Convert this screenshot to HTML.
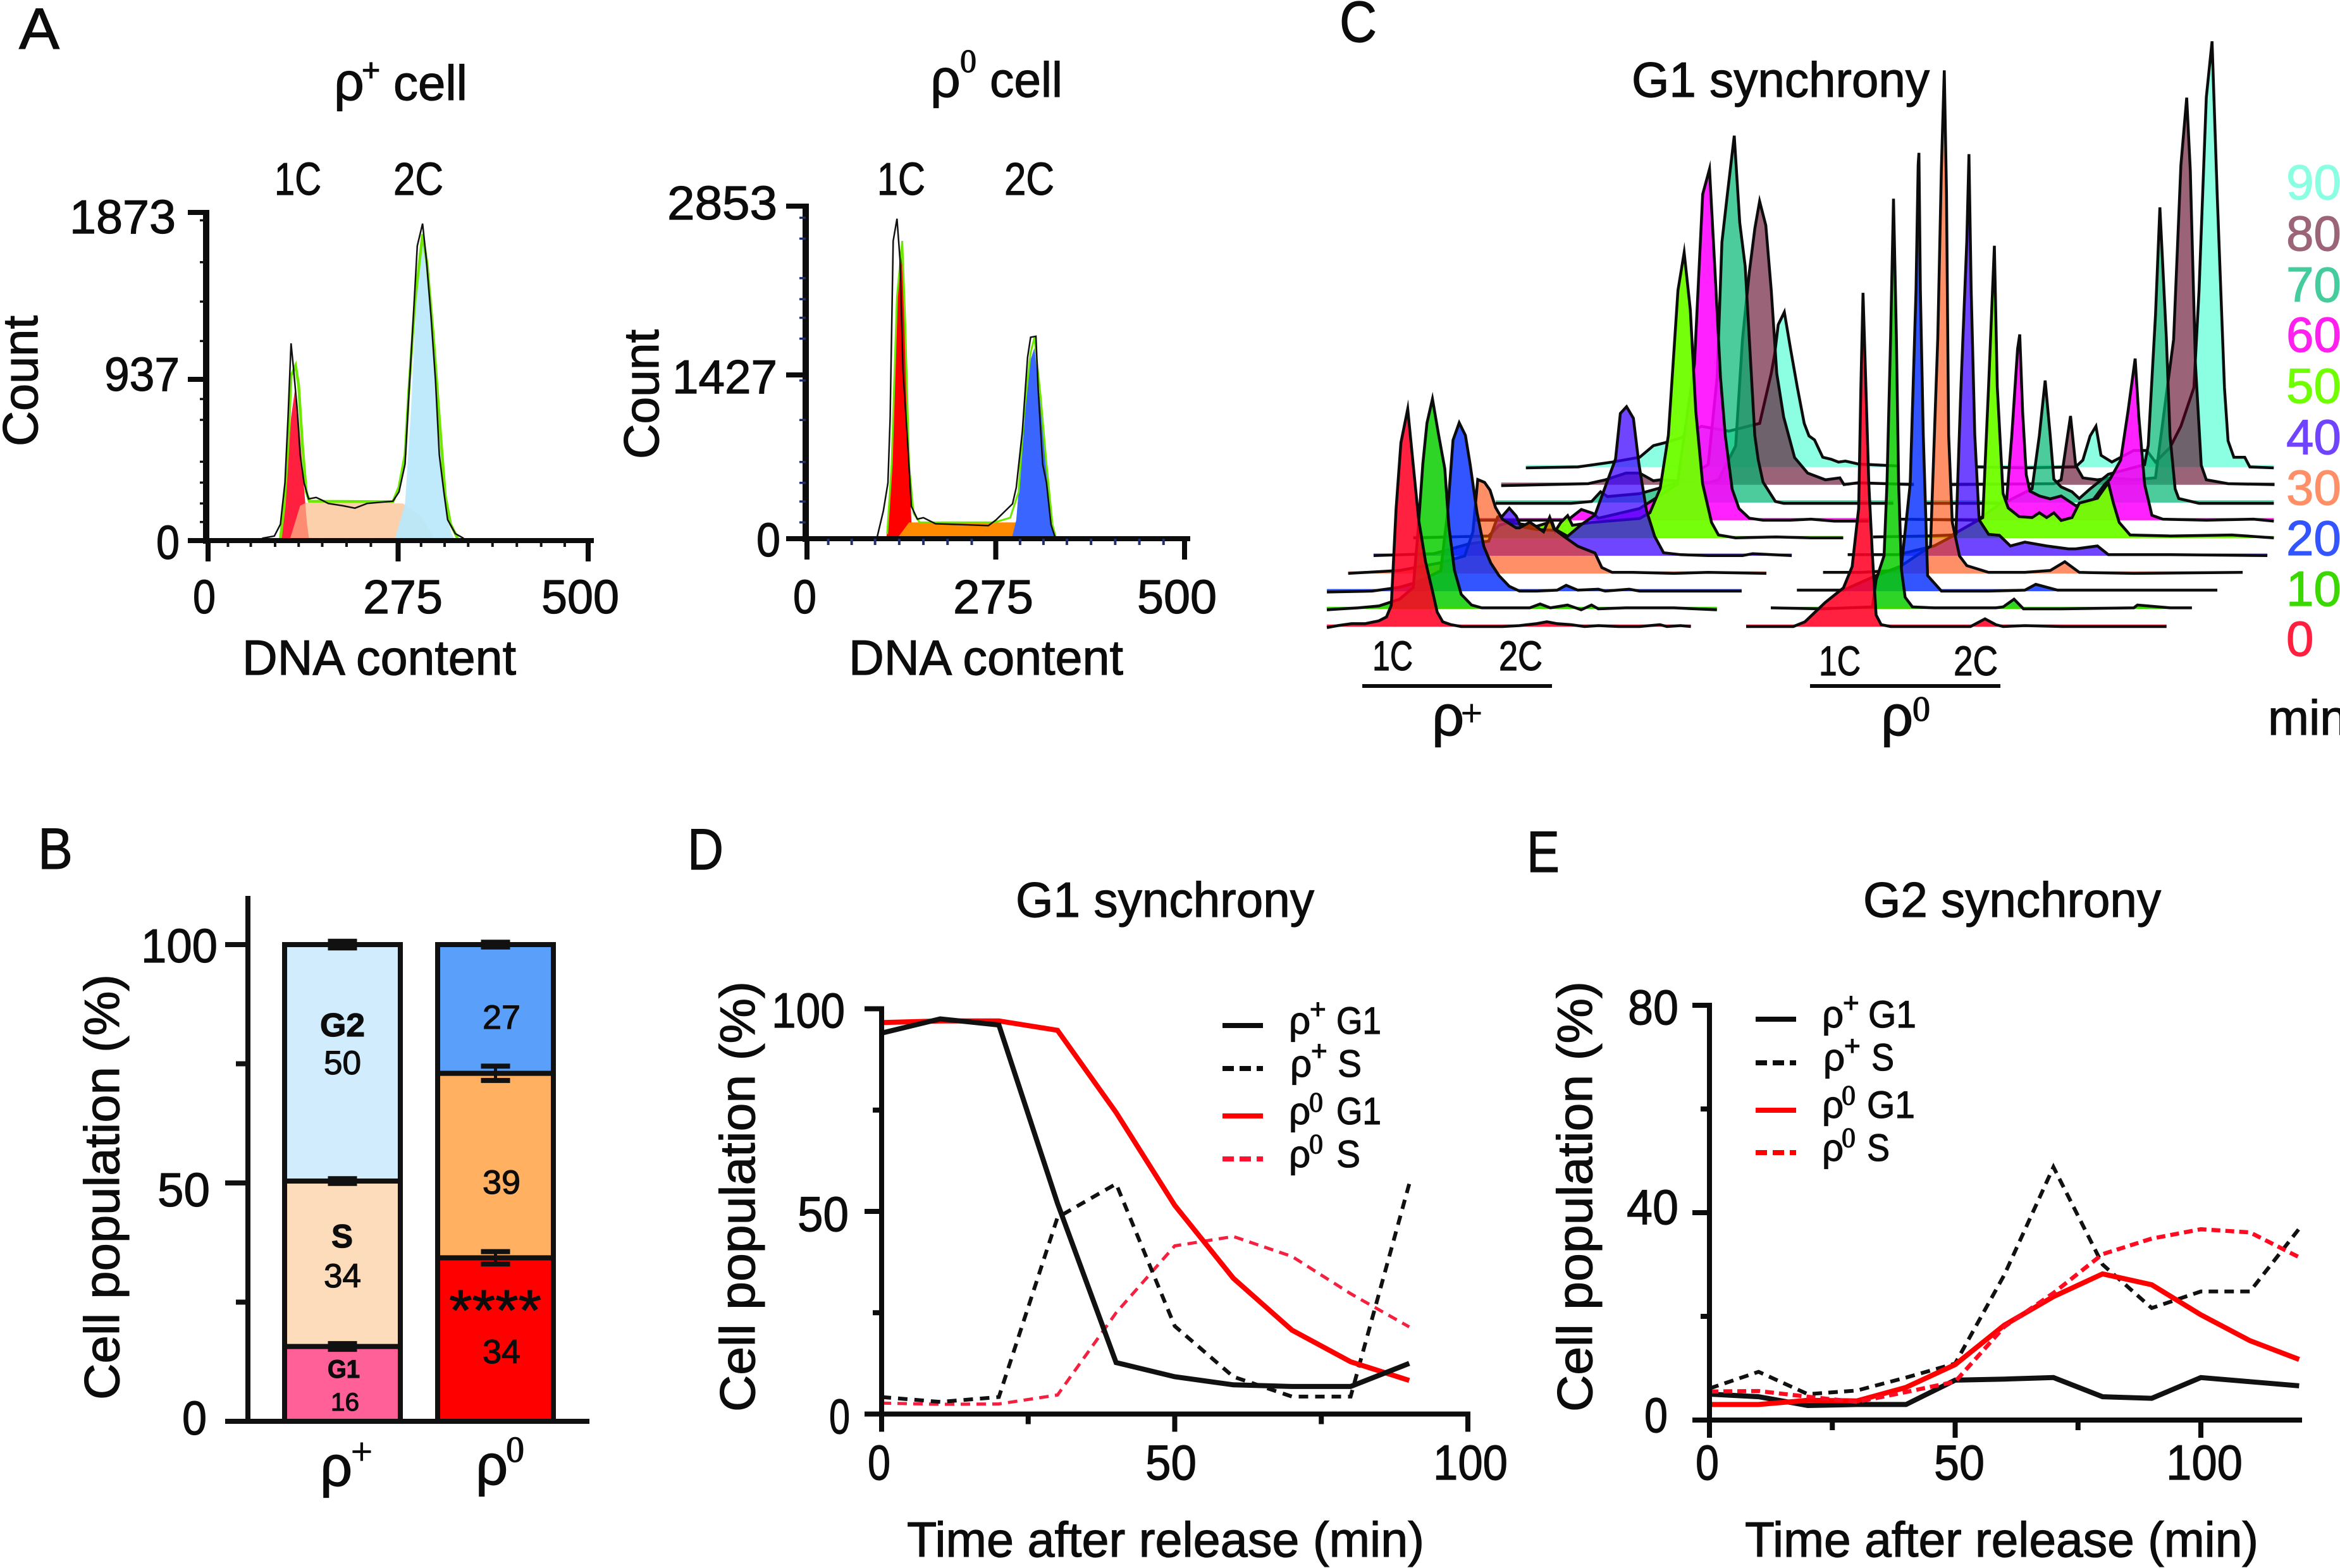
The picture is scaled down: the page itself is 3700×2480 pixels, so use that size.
<!DOCTYPE html>
<html lang="en">
<head>
<meta charset="utf-8">
<title>Cell cycle figure</title>
<style>
html,body{margin:0;padding:0;background:#fff;}
svg{display:block;}
text{font-family:"Liberation Sans",sans-serif;color:#0c0c0c;fill:currentColor;stroke:currentColor;stroke-width:1.2;}
.serif{font-family:"Liberation Serif",serif;}
.panel{font-size:92px;}
.t75{font-size:75px;}
.t78{font-size:78px;}
.t70{font-size:72px;}
.lg{font-size:60px;}
.sup{font-size:44px;}
</style>
</head>
<body>
<svg id="figure" xmlns="http://www.w3.org/2000/svg" width="3700" height="2480" viewBox="0 0 3700 2480">
<rect x="0" y="0" width="3700" height="2480" fill="#fff"/>

<!-- Panel A -->
<g>
<text class="panel" x="30" y="77" textLength="64" lengthAdjust="spacingAndGlyphs">A</text>
<text font-size="84" x="528" y="158">ρ</text>
<text font-size="50" x="572" y="128">+</text>
<text class="t78" x="622" y="158" textLength="117" lengthAdjust="spacingAndGlyphs">cell</text>
<text class="t70" x="434" y="308" textLength="74" lengthAdjust="spacingAndGlyphs">1C</text>
<text class="t70" x="622" y="308" textLength="79" lengthAdjust="spacingAndGlyphs">2C</text>
<text class="t75" x="110" y="369" textLength="168" lengthAdjust="spacingAndGlyphs">1873</text>
<text class="t75" x="165" y="618" textLength="119" lengthAdjust="spacingAndGlyphs">937</text>
<text class="t75" x="247" y="884" textLength="37" lengthAdjust="spacingAndGlyphs">0</text>
<text class="t75" x="305" y="970" textLength="36" lengthAdjust="spacingAndGlyphs">0</text>
<text class="t75" x="574" y="970" textLength="126" lengthAdjust="spacingAndGlyphs">275</text>
<text class="t75" x="856" y="970" textLength="123" lengthAdjust="spacingAndGlyphs">500</text>
<text class="t78" x="383" y="1067" textLength="433" lengthAdjust="spacingAndGlyphs">DNA content</text>
<text class="t78" transform="translate(59,706) rotate(-90)" textLength="207" lengthAdjust="spacingAndGlyphs">Count</text>

<text font-size="84" x="1471" y="153">ρ</text>
<text class="serif" font-size="52" x="1518" y="114">0</text>
<text class="t78" x="1565" y="153" textLength="115" lengthAdjust="spacingAndGlyphs">cell</text>
<text class="t70" x="1387" y="308" textLength="76" lengthAdjust="spacingAndGlyphs">1C</text>
<text class="t70" x="1588" y="308" textLength="79" lengthAdjust="spacingAndGlyphs">2C</text>
<text class="t75" x="1055" y="347" textLength="174" lengthAdjust="spacingAndGlyphs">2853</text>
<text class="t75" x="1063" y="622" textLength="166" lengthAdjust="spacingAndGlyphs">1427</text>
<text class="t75" x="1196" y="880" textLength="38" lengthAdjust="spacingAndGlyphs">0</text>
<text class="t75" x="1254" y="970" textLength="37" lengthAdjust="spacingAndGlyphs">0</text>
<text class="t75" x="1507" y="970" textLength="127" lengthAdjust="spacingAndGlyphs">275</text>
<text class="t75" x="1798" y="970" textLength="126" lengthAdjust="spacingAndGlyphs">500</text>
<text class="t78" x="1342" y="1067" textLength="434" lengthAdjust="spacingAndGlyphs">DNA content</text>
<text class="t78" transform="translate(1041,726) rotate(-90)" textLength="205" lengthAdjust="spacingAndGlyphs">Count</text>
</g>
<g id="histA"></g>

<!-- Panel C -->
<g id="ridges"></g>
<g>
<text class="panel" x="2118" y="66" textLength="59" lengthAdjust="spacingAndGlyphs">C</text>
<text class="t78" x="2580" y="153" textLength="471" lengthAdjust="spacingAndGlyphs">G1 synchrony</text>
<text font-size="66" x="2170" y="1060" textLength="64" lengthAdjust="spacingAndGlyphs">1C</text>
<text font-size="66" x="2370" y="1060" textLength="69" lengthAdjust="spacingAndGlyphs">2C</text>
<rect x="2154" y="1082" width="300" height="6" fill="#0c0c0c"/>
<text font-size="90" x="2264" y="1163">ρ</text>
<text class="serif" font-size="60" x="2310" y="1148">+</text>
<text font-size="66" x="2876" y="1068" textLength="66" lengthAdjust="spacingAndGlyphs">1C</text>
<text font-size="66" x="3089" y="1068" textLength="70" lengthAdjust="spacingAndGlyphs">2C</text>
<rect x="2862" y="1082" width="301" height="6" fill="#0c0c0c"/>
<text font-size="90" x="2974" y="1163">ρ</text>
<text class="serif" font-size="56" x="3024" y="1140">0</text>
<text font-size="78" x="3615" y="315" style="color:#8bffe2">90</text>
<text font-size="78" x="3615" y="396" style="color:#9b6478">80</text>
<text font-size="78" x="3615" y="477" style="color:#45cc9c">70</text>
<text font-size="78" x="3615" y="556" style="color:#ff20f0">60</text>
<text font-size="78" x="3615" y="637" style="color:#70ff00">50</text>
<text font-size="78" x="3615" y="718" style="color:#7044ff">40</text>
<text font-size="78" x="3615" y="798" style="color:#ff8f66">30</text>
<text font-size="78" x="3615" y="878" style="color:#3355ff">20</text>
<text font-size="78" x="3615" y="958" style="color:#3ad800">10</text>
<text font-size="78" x="3615" y="1037" style="color:#ff2040">0</text>
<text font-size="78" x="3586" y="1162">min</text>
</g>

<!-- Panel B -->
<g id="barsB"></g>
<g>
<text class="panel" x="60" y="1374" textLength="55" lengthAdjust="spacingAndGlyphs">B</text>
<text class="t75" x="223" y="1522" textLength="121" lengthAdjust="spacingAndGlyphs">100</text>
<text class="t75" x="249" y="1908" textLength="83" lengthAdjust="spacingAndGlyphs">50</text>
<text class="t75" x="288" y="2269" textLength="39" lengthAdjust="spacingAndGlyphs">0</text>
<text class="t78" transform="translate(188,2214) rotate(-90)" textLength="673" lengthAdjust="spacingAndGlyphs">Cell population (%)</text>
<text font-size="52" font-weight="bold" x="506" y="1639" textLength="71" lengthAdjust="spacingAndGlyphs">G2</text>
<text font-size="53" x="512" y="1699" textLength="59" lengthAdjust="spacingAndGlyphs">50</text>
<text font-size="52" font-weight="bold" x="524" y="1973" textLength="34" lengthAdjust="spacingAndGlyphs">S</text>
<text font-size="53" x="512" y="2036" textLength="59" lengthAdjust="spacingAndGlyphs">34</text>
<text font-size="40" font-weight="bold" x="518" y="2179" textLength="51" lengthAdjust="spacingAndGlyphs">G1</text>
<text font-size="40" x="523" y="2231" textLength="45" lengthAdjust="spacingAndGlyphs">16</text>
<text font-size="53" x="763" y="1627" textLength="60" lengthAdjust="spacingAndGlyphs">27</text>
<text font-size="53" x="763" y="1888" textLength="60" lengthAdjust="spacingAndGlyphs">39</text>
<text font-size="90" x="710" y="2103" textLength="146" lengthAdjust="spacingAndGlyphs">****</text>
<text font-size="53" x="763" y="2156" textLength="60" lengthAdjust="spacingAndGlyphs">34</text>
<text font-size="90" x="506" y="2350">ρ</text>
<text class="serif" font-size="60" x="555" y="2316">+</text>
<text font-size="90" x="752" y="2348">ρ</text>
<text class="serif" font-size="58" x="800" y="2312">0</text>
</g>

<!-- Panel D -->
<g id="plotD"></g>
<g>
<text class="panel" x="1087" y="1375" textLength="57" lengthAdjust="spacingAndGlyphs">D</text>
<text class="t78" x="1606" y="1450" textLength="472" lengthAdjust="spacingAndGlyphs">G1 synchrony</text>
<text class="t78" x="1220" y="1625" textLength="116" lengthAdjust="spacingAndGlyphs">100</text>
<text class="t78" x="1261" y="1947" textLength="81" lengthAdjust="spacingAndGlyphs">50</text>
<text class="t78" x="1311" y="2267" textLength="33" lengthAdjust="spacingAndGlyphs">0</text>
<text class="t78" x="1372" y="2340" textLength="36" lengthAdjust="spacingAndGlyphs">0</text>
<text class="t78" x="1811" y="2340" textLength="81" lengthAdjust="spacingAndGlyphs">50</text>
<text class="t78" x="2266" y="2340" textLength="118" lengthAdjust="spacingAndGlyphs">100</text>
<text class="t78" x="1434" y="2462" textLength="818" lengthAdjust="spacingAndGlyphs">Time after release (min)</text>
<text class="t78" transform="translate(1193,2233) rotate(-90)" textLength="681" lengthAdjust="spacingAndGlyphs">Cell population (%)</text>
<g>
<line x1="1933" x2="1997" y1="1622" y2="1622" stroke="#0c0c0c" stroke-width="8"/>
<text class="lg" x="2038" y="1635">ρ</text><text class="sup" x="2071" y="1611">+</text>
<text class="lg" x="2113" y="1635" textLength="71" lengthAdjust="spacingAndGlyphs">G1</text>
<line x1="1933" x2="1997" y1="1690" y2="1690" stroke="#0c0c0c" stroke-width="8" stroke-dasharray="18 9"/>
<text class="lg" x="2040" y="1703">ρ</text><text class="sup" x="2073" y="1677">+</text>
<text class="lg" x="2115" y="1703" textLength="38" lengthAdjust="spacingAndGlyphs">S</text>
<line x1="1933" x2="1997" y1="1765" y2="1765" stroke="#ff0000" stroke-width="8"/>
<text class="lg" x="2038" y="1778">ρ</text><text class="sup serif" x="2070" y="1758">0</text>
<text class="lg" x="2113" y="1778" textLength="71" lengthAdjust="spacingAndGlyphs">G1</text>
<line x1="1933" x2="1997" y1="1833" y2="1833" stroke="#ff1030" stroke-width="8" stroke-dasharray="18 9"/>
<text class="lg" x="2038" y="1846">ρ</text><text class="sup serif" x="2070" y="1824">0</text>
<text class="lg" x="2113" y="1846" textLength="38" lengthAdjust="spacingAndGlyphs">S</text>
</g>
</g>

<!-- Panel E -->
<g id="plotE"></g>
<g>
<text class="panel" x="2414" y="1379" textLength="52" lengthAdjust="spacingAndGlyphs">E</text>
<text class="t78" x="2946" y="1450" textLength="471" lengthAdjust="spacingAndGlyphs">G2 synchrony</text>
<text class="t78" x="2574" y="1620" textLength="80" lengthAdjust="spacingAndGlyphs">80</text>
<text class="t78" x="2572" y="1936" textLength="82" lengthAdjust="spacingAndGlyphs">40</text>
<text class="t78" x="2600" y="2265" textLength="37" lengthAdjust="spacingAndGlyphs">0</text>
<text class="t78" x="2681" y="2340" textLength="37" lengthAdjust="spacingAndGlyphs">0</text>
<text class="t78" x="3058" y="2340" textLength="80" lengthAdjust="spacingAndGlyphs">50</text>
<text class="t78" x="3425" y="2340" textLength="121" lengthAdjust="spacingAndGlyphs">100</text>
<text class="t78" x="2759" y="2462" textLength="812" lengthAdjust="spacingAndGlyphs">Time after release (min)</text>
<text class="t78" transform="translate(2517,2233) rotate(-90)" textLength="681" lengthAdjust="spacingAndGlyphs">Cell population (%)</text>
<g>
<line x1="2776" x2="2840" y1="1612" y2="1612" stroke="#0c0c0c" stroke-width="8"/>
<text class="lg" x="2881" y="1625">ρ</text><text class="sup" x="2914" y="1601">+</text>
<text class="lg" x="2954" y="1625" textLength="76" lengthAdjust="spacingAndGlyphs">G1</text>
<line x1="2776" x2="2840" y1="1681" y2="1681" stroke="#0c0c0c" stroke-width="8" stroke-dasharray="18 9"/>
<text class="lg" x="2883" y="1693">ρ</text><text class="sup" x="2916" y="1669">+</text>
<text class="lg" x="2959" y="1693" textLength="36" lengthAdjust="spacingAndGlyphs">S</text>
<line x1="2776" x2="2840" y1="1756" y2="1756" stroke="#ff0000" stroke-width="8"/>
<text class="lg" x="2881" y="1768">ρ</text><text class="sup serif" x="2912" y="1747">0</text>
<text class="lg" x="2952" y="1768" textLength="76" lengthAdjust="spacingAndGlyphs">G1</text>
<line x1="2776" x2="2840" y1="1823" y2="1823" stroke="#ff0000" stroke-width="8" stroke-dasharray="18 9"/>
<text class="lg" x="2881" y="1836">ρ</text><text class="sup serif" x="2912" y="1814">0</text>
<text class="lg" x="2952" y="1836" textLength="36" lengthAdjust="spacingAndGlyphs">S</text>
</g>
</g>
</svg>

<script>
/* ---------- Panel A data: [DNA content, count] ---------- */
const histPlusObserved=[[72,13],[88,26],[96,93],[102,331],[106,702],[109,1020],[110,1126],[113,993],[118,755],[122,490],[127,331],[133,238],[143,246],[151,230],[159,212],[178,199],[194,185],[210,212],[231,220],[244,225],[252,278],[260,437],[265,834],[271,1285],[276,1682],[283,1809],[288,1603],[294,1285],[300,914],[305,490],[311,278],[316,119],[326,40],[337,13]];
const histPlusFit=[[96,13],[101,199],[106,543],[110,940],[116,999],[120,887],[125,543],[130,278],[134,225],[244,222],[252,305],[260,490],[265,861],[273,1364],[283,1748],[289,1576],[297,1179],[305,702],[313,252],[320,93],[329,13]];
const histPlusG1=[[96,0],[104,331],[110,702],[116,887],[120,702],[126,358],[131,93],[134,0]];
const histPlusS=[[108,0],[122,199],[130,217],[257,212],[279,146],[301,0]];
const histPlusG2=[[246,0],[260,212],[268,755],[276,1497],[283,1722],[289,1550],[297,1099],[305,570],[313,199],[321,40],[326,0]];
const histPlusMinorY=[1828,1589,1364,1139,808,689,450,331,212,106];
const histPlusMinorX=[27,57,89,120,151,183,215,281,312,343,375,407,439,470];

const histZeroObserved=[[94,20],[102,239],[108,479],[111,1037],[115,2554],[120,2745],[124,2394],[128,1437],[134,838],[139,279],[147,168],[155,180],[171,128],[209,120],[241,112],[251,160],[273,299],[278,439],[286,918],[293,1556],[297,1728],[304,1736],[307,1277],[313,638],[318,479],[324,120],[329,20]];
const histZeroFit=[[107,40],[113,638],[120,2075],[127,2554],[131,1836],[136,638],[142,219],[150,140],[249,140],[270,180],[281,399],[289,1117],[297,1596],[302,1724],[310,1237],[318,638],[326,120],[330,20]];
const histZeroG1=[[106,0],[113,638],[119,2075],[126,2454],[131,1836],[136,638],[140,0]];
const histZeroS=[[120,0],[136,140],[275,140],[294,140],[306,0]];
const histZeroG2=[[272,0],[278,160],[286,798],[294,1476],[302,1636],[310,1157],[318,598],[325,120],[330,0]];
const histZeroMinorY=[2753,2574,2235,2055,1895,1716,1357,1018,658,479,319,140];
const histZeroMinorX=[29,60,91,123,155,187,219,283,314,345,377,409,441,473];
const histTicksX=[0,250,500];

/* ---------- Panel B data ---------- */
const barCategories=['rho-plus','rho-zero'];
const barPhases=['g1','s','g2'];
const rhoPlusPhaseValues=[15.7,34.7,49.6];
const rhoZeroPhaseValues=[34.3,38.7,27];
const rhoPlusPhaseErrors=[0.6,0.5,0.7];
const rhoZeroPhaseErrors=[1.3,1.5,0.5];
const barTicksMajor=[0,50,100];
const barTicksMinor=[25,75];

/* ---------- Panel D data ---------- */
const timeD=[0,10,20,30,40,50,60,70,80,90];
const dPlusG1=[94,97.5,96,52,12.7,9.2,7.2,6.8,6.8,12.5];
const dPlusS=[4.2,3,4.2,48.5,56.8,21.7,9.2,4.3,4.3,56.8];
const dZeroG1=[96.6,97,97,94.7,74.4,51.5,33.5,20.7,12.9,8.3];
const dZeroS=[2.7,2.4,2.5,4.7,25,41.5,43.8,38.9,29.7,21.5];
const dTicksYMajor=[0,50,100];
const dTicksYMinor=[25,75];
const dTicksXMajor=[0,50,100];
const dTicksXMinor=[25,75];

/* ---------- Panel E data ---------- */
const timeE=[0,10,20,30,40,50,60,70,80,90,100,110,120];
const ePlusG1=[5,4.5,2.8,3,3,7.7,7.9,8.2,4.5,4.2,8.2,7.4,6.6];
const ePlusS=[6.1,9.3,5,5.7,8.2,10.9,28,48.8,30,21.6,24.8,24.8,36.9];
const eZeroG1=[3,3,3.8,3.7,6.3,10.7,18.3,23.8,28.2,26.1,20.3,15.3,11.7];
const eZeroS=[5.5,5.6,4.5,3.5,5.4,7.4,18,24.5,32,35,36.8,36.2,31.4];
const eTicksYMajor=[0,40,80];
const eTicksYMinor=[20,60];
const eTicksXMajor=[0,50,100];
const eTicksXMinor=[25,75];

/* ---------- Panel C data: [channel, count] per time point ---------- */
const ridgeTimes=[0,10,20,30,40,50,60,70,80,90];
const plus0=[[0,-2],[16,0],[36,2],[56,2],[76,5],[87,9],[94,21],[101,121],[108,189],[118,224],[126,166],[134,109],[144,66],[154,36],[161,14],[169,4],[181,1],[196,-1],[226,-1],[256,-1],[281,0],[306,2],[321,4],[336,2],[356,1],[376,-1],[396,0],[426,-1],[456,-1],[486,1],[496,-1],[516,0],[531,-1]];
const plus10=[[-37,-2],[-16,-1],[9,0],[39,2],[69,9],[89,21],[96,79],[103,149],[109,191],[117,216],[126,179],[135,144],[141,84],[149,39],[159,14],[174,3],[189,0],[209,0],[239,0],[259,0],[274,4],[289,0],[314,3],[334,-2],[349,3],[359,-1],[399,0],[469,0],[532,-2]];
const plus20=[[-74,-2],[-8,-1],[32,3],[57,8],[92,20],[102,80],[110,155],[119,173],[128,160],[135,130],[145,80],[155,45],[165,28],[177,15],[192,4],[207,-1],[232,-1],[262,0],[275,5],[292,0],[322,1],[332,-1],[367,1],[382,-1],[432,-1],[531,-1]];
const plus30=[[-80,-1],[-5,2],[55,10],[90,17],[102,42],[109,96],[119,93],[127,85],[135,67],[145,55],[165,46],[170,46],[185,52],[205,42],[214,57],[220,45],[235,37],[255,27],[280,20],[290,5],[305,0],[335,0],[395,-1],[445,0],[530,-1]];
const plus40=[[-80,-1],[8,1],[58,11],[88,14],[101,39],[108,40],[118,48],[128,40],[135,29],[158,26],[188,25],[203,19],[223,31],[243,41],[260,74],[273,99],[280,146],[289,153],[299,141],[307,94],[318,46],[330,19],[343,2],[368,0],[408,-1],[458,-1],[473,1],[530,-1]];
const plus50=[[-59,-1],[51,1],[66,12],[81,15],[121,11],[143,16],[148,6],[156,15],[166,22],[173,12],[201,15],[271,19],[286,25],[301,50],[313,105],[327,255],[336,294],[345,235],[353,130],[363,55],[376,15],[386,2],[411,-1],[471,0],[521,-1],[568,-1]];
const plus60=[[-6,-1],[44,-1],[129,-1],[149,10],[166,6],[174,1],[234,11],[289,36],[304,111],[314,161],[326,336],[336,362],[344,256],[352,146],[359,86],[369,31],[379,11],[394,1],[414,-1],[454,-1],[484,0],[518,-2],[568,-2]];
const plus70=[[-13,-2],[97,-2],[127,0],[140,10],[150,5],[197,8],[247,18],[297,38],[310,128],[317,268],[325,318],[335,378],[343,288],[351,243],[357,168],[365,68],[370,43],[377,20],[395,0],[407,-2],[447,-2],[481,-2],[567,-2]];
const plus80=[[-42,-2],[85,0],[110,4],[140,11],[160,11],[180,3],[190,4],[260,1],[275,4],[300,39],[310,149],[320,219],[328,264],[335,292],[344,267],[352,199],[360,114],[370,69],[386,27],[405,11],[431,4],[452,6],[458,-1],[479,1],[560,-1]];
const plus90=[[-43,-2],[33,-1],[83,4],[123,9],[143,21],[160,24],[183,29],[213,41],[253,36],[298,44],[315,96],[320,116],[325,146],[334,159],[343,121],[353,81],[363,44],[370,31],[378,27],[390,9],[402,7],[413,4],[423,5],[442,2],[500,0]];
const zero0=[[0,-1],[65,-1],[81,4],[109,24],[134,39],[146,61],[155,121],[158,246],[161,344],[165,246],[169,146],[174,71],[179,11],[186,1],[199,-1],[234,-1],[284,-1],[309,-1],[329,7],[344,1],[354,-1],[384,0],[434,-1],[474,-1],[534,-1],[579,-1]];
const zero10=[[-1,0],[69,-1],[139,1],[144,29],[155,54],[159,129],[164,279],[168,423],[172,279],[175,129],[179,39],[184,11],[194,1],[224,0],[274,0],[309,0],[319,1],[334,9],[347,-1],[399,-1],[499,0],[504,3],[549,0],[579,0]];
const zero20=[[0,0],[64,0],[109,15],[144,25],[156,110],[164,310],[167,440],[168,452],[170,310],[174,160],[180,15],[199,-1],[264,-1],[314,0],[329,6],[359,0],[464,0],[579,0]];
const zero30=[[1,0],[54,0],[99,2],[149,27],[159,242],[164,417],[168,519],[171,392],[174,142],[179,52],[189,17],[199,7],[229,0],[279,0],[314,2],[334,11],[354,0],[429,-1],[579,0]];
const zero40=[[0,0],[69,0],[119,9],[149,21],[156,174],[164,324],[167,414],[170,274],[175,124],[181,36],[194,21],[209,20],[224,9],[244,13],[274,9],[304,6],[314,6],[344,9],[359,0],[444,0],[578,-1]];
const zero50=[[0,0],[74,1],[109,2],[151,20],[159,155],[167,301],[171,155],[179,45],[186,30],[201,21],[219,20],[229,25],[239,20],[249,25],[259,17],[274,20],[284,35],[309,40],[324,56],[331,35],[339,15],[354,2],[409,1],[494,2],[552,-1]];
const zero60=[[0,0],[109,-1],[149,21],[156,86],[164,176],[167,191],[171,111],[176,46],[181,29],[194,24],[209,21],[224,24],[244,14],[264,16],[284,36],[291,41],[306,61],[316,111],[326,166],[331,106],[339,36],[349,4],[364,0],[424,-1],[489,0],[517,-2]];
const zero70=[[4,-2],[109,-2],[149,13],[159,68],[167,125],[174,68],[179,23],[189,15],[204,10],[214,3],[229,13],[254,28],[304,38],[309,58],[319,193],[325,304],[334,168],[339,68],[346,13],[351,3],[379,-2],[482,-2]];
const zero80=[[2,-1],[144,0],[154,4],[167,70],[174,19],[184,6],[204,4],[224,6],[254,4],[284,6],[309,149],[319,329],[327,399],[332,324],[339,124],[347,19],[354,4],[384,0],[448,-1]];
const zero90=[[4,-1],[69,-2],[139,-1],[149,6],[159,31],[167,41],[174,11],[189,4],[219,16],[237,16],[249,4],[269,19],[284,41],[302,81],[309,181],[319,381],[327,439],[334,281],[344,81],[349,26],[357,9],[372,9],[379,-1],[412,-2]];
const plusTraces=[plus0,plus10,plus20,plus30,plus40,plus50,plus60,plus70,plus80,plus90];
const zeroTraces=[zero0,zero10,zero20,zero30,zero40,zero50,zero60,zero70,zero80,zero90];

/* ---------- drawing helpers ---------- */
const NS='http://www.w3.org/2000/svg';
function node(tag,parent,attrs,name){
  const n=document.createElementNS(NS,tag);
  for(const k in attrs){n.setAttribute(k,attrs[k]);}
  
  
  parent.appendChild(n);
  return n;
}
function seg(parent,x1,y1,x2,y2,w,color,name){
  return node('line',parent,{x1:x1,y1:y1,x2:x2,y2:y2,stroke:color,'stroke-width':w},name);
}
function ptsOf(data,xf,yf){
  return data.map(function(d){return xf(d[0]).toFixed(1)+','+yf(d[1]).toFixed(1);}).join(' ');
}

/* ---------- Panel A ---------- */
function drawHist(cfg){
  const g=document.getElementById('histA');
  const xf=function(v){return cfg.x0+v*(cfg.x500-cfg.x0)/500;};
  const yf=function(v){return cfg.y0+v*(cfg.yTop-cfg.y0)/cfg.max;};
  node('polygon',g,{points:ptsOf(cfg.g1,xf,yf),fill:cfg.g1Color},cfg.id+'-g1-fill');
  node('polygon',g,{points:ptsOf(cfg.s,xf,yf),fill:cfg.sColor,'fill-opacity':cfg.sAlpha},cfg.id+'-s-fill');
  node('polygon',g,{points:ptsOf(cfg.g2,xf,yf),fill:cfg.g2Color,'fill-opacity':cfg.g2Alpha},cfg.id+'-g2-fill');
  node('polyline',g,{points:ptsOf(cfg.fit,xf,yf),fill:'none',stroke:'#6fe800','stroke-width':cfg.fitW},cfg.id+'-model-fit');
  node('polyline',g,{points:ptsOf(cfg.obs,xf,yf),fill:'none',stroke:'#111','stroke-width':2.5},cfg.id+'-observed-histogram');
  seg(g,cfg.axisX,yf(cfg.max)-4,cfg.axisX,cfg.y0+5,10,'#0c0c0c',cfg.id+'-y-axis');
  seg(g,cfg.tickL,cfg.y0,cfg.xEnd,cfg.y0,8,'#0c0c0c',cfg.id+'-x-axis');
  seg(g,cfg.tickL,yf(cfg.max),cfg.axisX,yf(cfg.max),8,'#0c0c0c',cfg.id+'-y-major-tick-top');
  seg(g,cfg.tickL,cfg.midY,cfg.axisX,cfg.midY,8,'#0c0c0c',cfg.id+'-y-major-tick-mid');
  cfg.minorY.forEach(function(v){
    seg(g,cfg.axisX-10,yf(v),cfg.axisX,yf(v),3.5,cfg.minorColor,cfg.id+'-y-minor-tick');
  });
  histTicksX.forEach(function(v){
    seg(g,xf(v)+1,cfg.y0,xf(v)+1,cfg.y0+33,8,'#0c0c0c',cfg.id+'-x-major-tick');
  });
  cfg.minorX.forEach(function(v){
    seg(g,xf(v),cfg.y0,xf(v),cfg.y0+10,4,cfg.minorColor,cfg.id+'-x-minor-tick');
  });
}
drawHist({id:'hist-plus',x0:328,axisX:326,x500:929,xEnd:939,tickL:297,y0:855,yTop:336,max:1873,midY:600,
  obs:histPlusObserved,fit:histPlusFit,g1:histPlusG1,s:histPlusS,g2:histPlusG2,
  g1Color:'#ff2040',sColor:'#fbbc88',sAlpha:0.7,g2Color:'#b9e8fb',g2Alpha:0.92,fitW:4.5,
  minorY:histPlusMinorY,minorX:histPlusMinorX,minorColor:'#111'});
drawHist({id:'hist-zero',x0:1275,axisX:1274,x500:1872,xEnd:1882,tickL:1243,y0:852,yTop:326,max:2853,midY:593,
  obs:histZeroObserved,fit:histZeroFit,g1:histZeroG1,s:histZeroS,g2:histZeroG2,
  g1Color:'#ff0000',sColor:'#ff8a00',sAlpha:1,g2Color:'#3a66ff',g2Alpha:1,fitW:3,
  minorY:histZeroMinorY,minorX:histZeroMinorX,minorColor:'#22306a'});

/* ---------- Panel C ---------- */
const ridgeFill=['#ff0023','#09ce00','#002aff','#ff4400','#3b00ff','#70ff00','#ff00ff','#00b672','#5b0022','#00ffbe'];
const ridgeAlpha=[0.87,0.85,0.8,0.6,0.73,0.96,0.87,0.7,0.61,0.45];
const ridgeLine=['#ff2040','#3ad800','#3355ff','#ff8f66','#7044ff','#70ff00','#ff20f0','#45cc9c','#9b6478','#8bffe2'];
function drawRidges(traces,label,xOrigin,chScale){
  const root=document.getElementById('ridges');
  for(let k=traces.length-1;k>=0;k--){
    const layer=k;
    const xf=function(ch){return xOrigin+ch*chScale+layer*40.15;};
    const base=989.5-28.06*layer;
    const yf=function(h){return base-h*1.53;};
    const data=traces[layer];
    const g=node('g',root,{},label+'-trace-'+ridgeTimes[layer]+'-min');
    const fillPts=[[data[0][0],0]].concat(data.map(function(d){return [d[0],Math.max(d[1],0)];})).concat([[data[data.length-1][0],0]]);
    node('polygon',g,{points:ptsOf(fillPts,xf,yf),fill:ridgeFill[layer],'fill-opacity':ridgeAlpha[layer]},label+'-fill-'+ridgeTimes[layer]);
    seg(g,xf(data[0][0]),base,xf(data[data.length-1][0]),base,3.5,ridgeLine[layer],label+'-baseline-'+ridgeTimes[layer]);
    node('polyline',g,{points:ptsOf(data,xf,yf),fill:'none',stroke:'#0c0c0c','stroke-width':4.5,'stroke-linejoin':'miter','stroke-miterlimit':8},label+'-outline-'+ridgeTimes[layer]);
  }
}
drawRidges(plusTraces,'rho-plus',2098,1.084);
drawRidges(zeroTraces,'rho-zero',2761,1.148);

/* ---------- Panel B ---------- */
(function(){
  const g=document.getElementById('barsB');
  const yf=function(v){return 2248-v*7.54;};
  const barLeft=[450,692];
  const barWidth=183;
  const colours=[['#ff6098','#fddcbc','#d0ecfd'],['#ff0000','#ffb060','#5aa0fa']];
  const values=[rhoPlusPhaseValues,rhoZeroPhaseValues];
  const errors=[rhoPlusPhaseErrors,rhoZeroPhaseErrors];
  values.forEach(function(vals,b){
    let stack=0;
    vals.forEach(function(v,i){
      const top=stack+v;
      node('rect',g,{x:barLeft[b],y:yf(top),width:barWidth,height:yf(stack)-yf(top),fill:colours[b][i],stroke:'#111','stroke-width':8},barCategories[b]+'-'+barPhases[i]+'-bar');
      stack=top;
    });
    stack=0;
    vals.forEach(function(v,i){
      stack+=v;
      const cx=barLeft[b]+barWidth/2;
      const hi=yf(stack+errors[b][i]);
      const lo=yf(stack-errors[b][i]);
      seg(g,cx,hi,cx,lo,5,'#111',barCategories[b]+'-'+barPhases[i]+'-error-stem');
      seg(g,cx-23,hi,cx+23,hi,8,'#111',barCategories[b]+'-'+barPhases[i]+'-error-cap-top');
      seg(g,cx-23,lo,cx+23,lo,8,'#111',barCategories[b]+'-'+barPhases[i]+'-error-cap-bottom');
    });
  });
  seg(g,392,1417,392,2252,8,'#111','b-y-axis');
  seg(g,356,2248,932,2248,8,'#111','b-x-axis');
  barTicksMajor.forEach(function(v){
    seg(g,356,yf(v),392,yf(v),8,'#111','b-y-major-tick');
  });
  barTicksMinor.forEach(function(v){
    seg(g,373,yf(v),392,yf(v),8,'#111','b-y-minor-tick');
  });
})();

/* ---------- Panels D / E ---------- */
function drawLines(cfg){
  const g=document.getElementById(cfg.host);
  const xf=function(v){return cfg.x0+v*cfg.xs;};
  const yf=function(v){return cfg.y0-v*cfg.ys;};
  cfg.series.forEach(function(s){
    const pts=s.values.map(function(v,i){return xf(cfg.time[i]).toFixed(1)+','+yf(v).toFixed(1);}).join(' ');
    const attrs={points:pts,fill:'none',stroke:s.color,'stroke-width':s.width,'stroke-linejoin':'miter'};
    if(s.dash){attrs['stroke-dasharray']=s.dash;}
    node('polyline',g,attrs,cfg.id+'-'+s.name);
  });
  seg(g,cfg.x0,yf(cfg.yMax)-4,cfg.x0,cfg.y0+28,8,'#0c0c0c',cfg.id+'-y-axis');
  seg(g,cfg.x0-27,cfg.y0,cfg.xEnd,cfg.y0,8,'#0c0c0c',cfg.id+'-x-axis');
  cfg.yMajor.forEach(function(v){
    seg(g,cfg.x0-27,yf(v),cfg.x0,yf(v),8,'#0c0c0c',cfg.id+'-y-major-tick');
  });
  cfg.yMinor.forEach(function(v){
    seg(g,cfg.x0-14,yf(v),cfg.x0,yf(v),8,'#0c0c0c',cfg.id+'-y-minor-tick');
  });
  cfg.xMajor.forEach(function(v){
    seg(g,xf(v),cfg.y0,xf(v),cfg.y0+28,8,'#0c0c0c',cfg.id+'-x-major-tick');
  });
  cfg.xMinor.forEach(function(v){
    seg(g,xf(v),cfg.y0,xf(v),cfg.y0+16,8,'#0c0c0c',cfg.id+'-x-minor-tick');
  });
}
drawLines({host:'plotD',id:'d',x0:1394,xs:9.27,y0:2236.5,ys:6.41,yMax:100,xEnd:2325,time:timeD,
  yMajor:dTicksYMajor,yMinor:dTicksYMinor,xMajor:dTicksXMajor,xMinor:dTicksXMinor,
  series:[
    {name:'rho-zero-s',values:dZeroS,color:'#f5203f',width:5,dash:'15 10'},
    {name:'rho-plus-s',values:dPlusS,color:'#111',width:6,dash:'15 11'},
    {name:'rho-zero-g1',values:dZeroG1,color:'#ff0000',width:8},
    {name:'rho-plus-g1',values:dPlusG1,color:'#111',width:8}
  ]});
drawLines({host:'plotE',id:'e',x0:2703,xs:7.77,y0:2246,ys:8.2,yMax:80,xEnd:3640,time:timeE,
  yMajor:eTicksYMajor,yMinor:eTicksYMinor,xMajor:eTicksXMajor,xMinor:eTicksXMinor,
  series:[
    {name:'rho-plus-g1',values:ePlusG1,color:'#111',width:8},
    {name:'rho-plus-s',values:ePlusS,color:'#111',width:6,dash:'15 10'},
    {name:'rho-zero-g1',values:eZeroG1,color:'#ff0000',width:8},
    {name:'rho-zero-s',values:eZeroS,color:'#ff0a20',width:6.5,dash:'14 8'}
  ]});
</script>
</body>
</html>
